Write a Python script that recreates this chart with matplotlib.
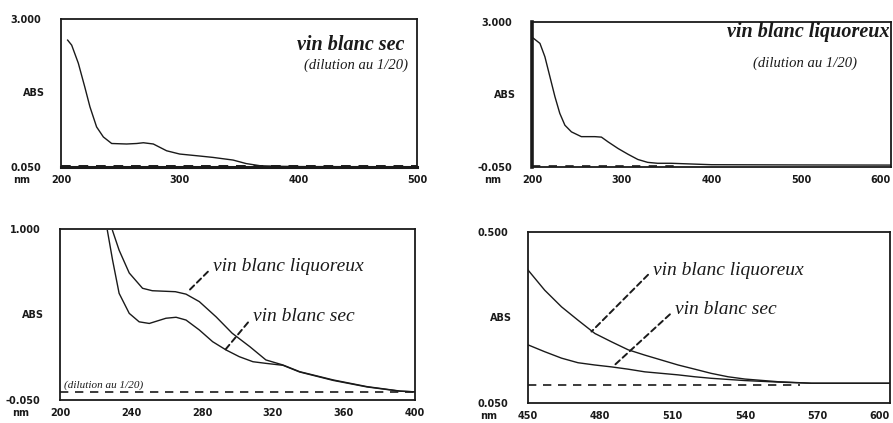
import numpy as np
import matplotlib
matplotlib.use("Agg")
import matplotlib.pyplot as plt
from matplotlib.transforms import ScaledTranslation

# --- data --------------------------------------------------------------
# top left: vin blanc sec, 200-500 nm (dilution 1/20)
sec_full_nm = [205.6, 209, 214.6, 220, 224.4, 230, 235.7, 242.7, 255.3, 263.8,
               269.4, 277.8, 289, 300, 317, 328, 345, 356, 368, 385, 401, 450, 500]
sec_full_abs = [2.58, 2.48, 2.12, 1.65, 1.25, 0.85, 0.65, 0.52, 0.51, 0.52,
                0.535, 0.51, 0.375, 0.31, 0.27, 0.243, 0.19, 0.12, 0.076, 0.065,
                0.06, 0.058, 0.058]

# top right: vin blanc liquoreux, 200-600 nm (dilution 1/20)
liq_full_nm = [201.5, 208.9, 214.4, 220, 225.6, 231, 236.7, 244, 255, 270,
               277.4, 284.8, 296, 307, 318, 329, 340, 355, 400, 500, 600]
liq_full_abs = [2.66, 2.55, 2.27, 1.85, 1.43, 1.08, 0.83, 0.69, 0.59, 0.59,
                0.58, 0.48, 0.34, 0.22, 0.11, 0.049, 0.03, 0.03, 0.0, -0.005, -0.008]

# bottom left: zoom 200-400 nm
liq_uv_nm = [229.6, 233.3, 239, 246.5, 252, 265, 271, 278.5, 288, 297,
             307, 316, 325.6, 335, 354, 373, 391.5, 400]
liq_uv_abs = [0.99, 0.87, 0.73, 0.636, 0.621, 0.615, 0.60, 0.554, 0.46, 0.36,
              0.277, 0.196, 0.165, 0.124, 0.073, 0.032, 0.005, 0.0]
sec_uv_nm = [226.7, 229.6, 233.3, 239, 244.6, 250.3, 259.7, 265.4, 271, 278.5,
             286, 293.6, 301, 308.7, 316, 325.6, 335, 354, 373, 391.5, 400]
sec_uv_abs = [0.99, 0.81, 0.605, 0.482, 0.43, 0.42, 0.452, 0.458, 0.441, 0.38,
              0.308, 0.257, 0.216, 0.185, 0.175, 0.163, 0.122, 0.07, 0.03, 0.004, 0.0]

# bottom right: visible 450-600 nm
vis_nm = [450.1, 457, 464, 470.8, 477.8, 484.7, 491.6, 498.5, 505.4, 512.3,
          519.2, 526, 533, 540, 553.7, 567.5, 600]
liq_vis_abs = [0.40, 0.347, 0.303, 0.268, 0.233, 0.211, 0.19, 0.176, 0.163, 0.15,
               0.139, 0.128, 0.119, 0.113, 0.106, 0.102, 0.102]
sec_vis_abs = [0.203, 0.185, 0.168, 0.156, 0.15, 0.145, 0.139, 0.132, 0.128, 0.124,
               0.119, 0.115, 0.112, 0.109, 0.105, 0.102, 0.102]

# ticks
ticks_tl = [200, 300, 400, 500]
ticks_tr = [200, 300, 400, 500, 600]
ticks_bl = [200, 240, 280, 320, 360, 400]
ticks_br = [450, 480, 510, 540, 570, 600]

INK = "#1a1a1a"
SERIF = ["Liberation Serif", "DejaVu Serif"]
tick_font = dict(family="DejaVu Sans", weight="bold", size=7, color=INK)
PAD = 6


def frame(ax, xlim, ylim, xticks, ylabels, last_right=False):
    ax.set_xlim(xlim)
    ax.set_ylim(ylim)
    ax.set_xticks(xticks)
    ax.set_xticklabels([str(t) for t in xticks], fontdict=tick_font)
    ax.set_yticks(ylim)
    ax.set_yticklabels([ylabels[0], ylabels[1]], fontdict=tick_font)
    ax.tick_params(axis="x", length=0, pad=PAD)
    ax.tick_params(axis="y", length=0, pad=14)
    if last_right:
        ax.get_xticklabels()[-1].set_ha("right")
    for s in ax.spines.values():
        s.set_linewidth(1.3)
        s.set_color(INK)
    # "ABS" on the left middle and "nm" left of the x labels
    ax.text(-0.075, 0.5, "ABS", transform=ax.transAxes, ha="center",
            va="center", **tick_font)
    tr = ax.transAxes + ScaledTranslation(-28 / 72, -PAD / 72, fig.dpi_scale_trans)
    ax.text(0, 0, "nm", transform=tr, ha="center", va="top", **tick_font)


def label(ax, txt, xy, xytext):
    ax.annotate(txt, xy=xy, xytext=xytext, ha="left", va="center",
                family=SERIF, style="italic", size=14, color=INK,
                arrowprops=dict(arrowstyle="-", ls=(0, (3, 2)), lw=1.4,
                                color=INK, shrinkA=2, shrinkB=0,
                                relpos=(0, 0.5)))


fig = plt.figure(figsize=(8.93, 4.23), dpi=100)

ax1 = fig.add_axes([0.0683, 0.605, 0.3987, 0.350])
ax2 = fig.add_axes([0.5957, 0.605, 0.4020, 0.343])
ax3 = fig.add_axes([0.0672, 0.0544, 0.3975, 0.4042])
ax4 = fig.add_axes([0.5910, 0.0473, 0.4054, 0.4042])

# top left
frame(ax1, (200, 500), (0.05, 3.0), ticks_tl, ["0.050", "3.000"])
ax1.plot(sec_full_nm, sec_full_abs, color=INK, lw=1.0)
ax1.axhline(0.062, color=INK, lw=1.4, ls=(0, (5, 4)))
ax1.spines["bottom"].set_linewidth(2.2)
ax1.text(0.965, 0.79, "vin blanc sec", transform=ax1.transAxes, ha="right",
         family=SERIF, style="italic", weight="bold", size=14.5, color=INK)
ax1.text(0.975, 0.69, "(dilution au 1/20)", transform=ax1.transAxes, ha="right",
         va="center", family=SERIF, style="italic", size=10.5, color=INK)

# top right
frame(ax2, (200, 600), (-0.05, 3.0), ticks_tr, ["-0.050", "3.000"], True)
ax2.plot(liq_full_nm, liq_full_abs, color=INK, lw=1.0)
ax2.plot([200, 360], [-0.025, -0.025], color=INK, lw=1.2, ls=(0, (5, 5)))
ax2.spines["left"].set_linewidth(2.6)
ax2.text(0.997, 0.93, "vin blanc liquoreux", transform=ax2.transAxes, ha="right",
         va="center", family=SERIF, style="italic", weight="bold", size=14.5,
         color=INK)
ax2.text(0.905, 0.715, "(dilution au 1/20)", transform=ax2.transAxes, ha="right",
         va="center", family=SERIF, style="italic", size=10.5, color=INK)

# bottom left
frame(ax3, (200, 400), (-0.05, 1.0), ticks_bl, ["-0.050", "1.000"])
ax3.plot(liq_uv_nm, liq_uv_abs, color=INK, lw=1.0)
ax3.plot(sec_uv_nm, sec_uv_abs, color=INK, lw=1.0)
ax3.axhline(0.0, color=INK, lw=1.2, ls=(0, (5, 4)))
ax3.text(202, 0.025, "(dilution au 1/20)", family=SERIF, style="italic",
         size=8, color=INK)
label(ax3, "vin blanc liquoreux", (272, 0.615), (286, 0.767))
label(ax3, "vin blanc sec", (293, 0.257), (308.5, 0.46))

# bottom right
frame(ax4, (450, 600), (0.05, 0.5), ticks_br, ["0.050", "0.500"], True)
ax4.plot(vis_nm, liq_vis_abs, color=INK, lw=1.0)
ax4.plot(vis_nm, sec_vis_abs, color=INK, lw=1.0)
ax4.plot([450, 563], [0.097, 0.097], color=INK, lw=1.2, ls=(0, (5, 4)))
label(ax4, "vin blanc liquoreux", (476.4, 0.238), (501.8, 0.40))
label(ax4, "vin blanc sec", (486, 0.15), (510.9, 0.295))

fig.savefig("out.png", dpi=100)
